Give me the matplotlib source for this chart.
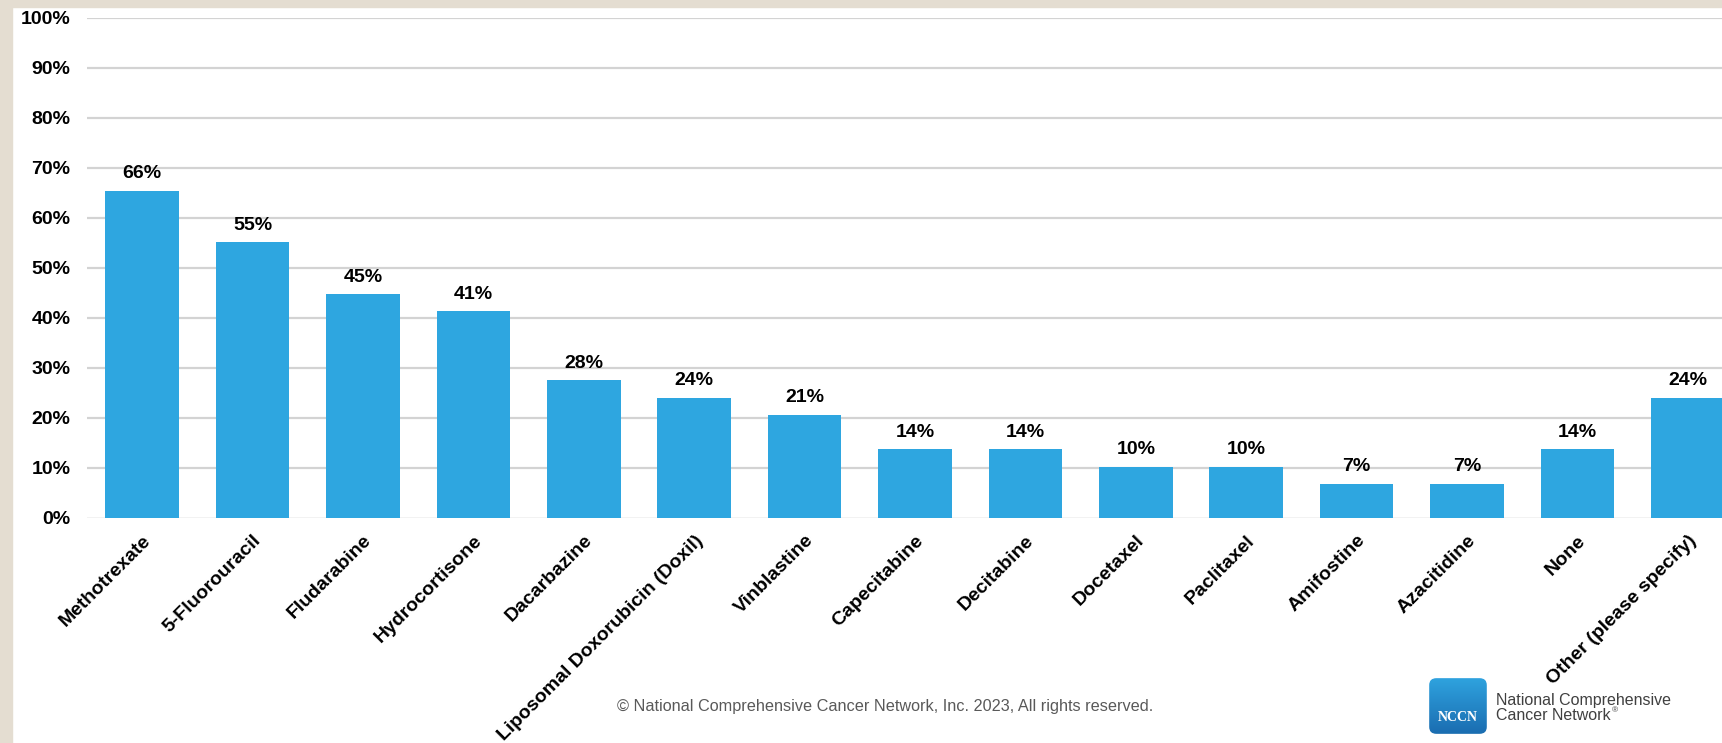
import numpy as np
import matplotlib
matplotlib.use("Agg")
import matplotlib.pyplot as plt
from matplotlib.patches import FancyBboxPatch, Rectangle
from matplotlib.colors import LinearSegmentedColormap

categories = ["Methotrexate", "5-Fluorouracil", "Fludarabine", "Hydrocortisone",
              "Dacarbazine", "Liposomal Doxorubicin (Doxil)", "Vinblastine",
              "Capecitabine", "Decitabine", "Docetaxel", "Paclitaxel",
              "Amifostine", "Azacitidine", "None", "Other (please specify)"]
values = [65.5, 55.2, 44.8, 41.4, 27.6, 24.1, 20.7, 13.8, 13.8, 10.3, 10.3, 6.9, 6.9, 13.8, 24.1]
value_labels = ["66%", "55%", "45%", "41%", "28%", "24%", "21%", "14%", "14%",
                "10%", "10%", "7%", "7%", "14%", "24%"]
yticks = [0, 10, 20, 30, 40, 50, 60, 70, 80, 90, 100]
ytick_labels = [f"{t}%" for t in yticks]

W, H = 1722, 743
fig = plt.figure(figsize=(W / 100, H / 100), dpi=100)
fig.patch.set_facecolor("white")
plt.rcParams['font.family'] = ['Liberation Sans', 'DejaVu Sans']

# beige frame strips
fig.add_artist(Rectangle((0, 0), 12 / W, 1, transform=fig.transFigure, color="#e4ddd1", zorder=0))
fig.add_artist(Rectangle((0, 1 - 7 / H), 1, 7 / H, transform=fig.transFigure, color="#e4ddd1", zorder=0))

left, right, bottom, top = 87, 1722, 743 - 518, 743 - 18
ax = fig.add_axes([left / W, bottom / H, (right - left) / W, (top - bottom) / H])
ax.set_facecolor("none")
slot = 110.4
ax.set_xlim(-0.5, -0.5 + (right - left) / slot)
ax.set_ylim(0, 100)

x = np.arange(len(categories))
ax.bar(x, values, width=0.667, color="#2ea6e0", zorder=2)
for xi, v, lab in zip(x, values, value_labels):
    ax.annotate(lab, (xi, v), xytext=(0, 6), textcoords="offset points",
                ha="center", va="bottom", fontsize=14, fontweight="bold", color="black",
                annotation_clip=False)

for t in yticks[1:]:
    ax.axhline(t, color="#d3d3d3", lw=1.6, zorder=1)
ax.axhline(0, color="#f0f0f0", lw=1.2, zorder=1)

ax.set_yticks(yticks)
ax.set_yticklabels(ytick_labels, fontsize=14, fontweight="bold")
ax.tick_params(axis="y", length=0, pad=12)
ax.set_xticks(x)
ax.set_xticklabels(categories, rotation=45, ha="right", rotation_mode="anchor",
                   fontsize=14, fontweight="bold")
ax.tick_params(axis="x", length=0, pad=10)
for s in ax.spines.values():
    s.set_visible(False)

fig.text(885 / W, 1 - 706 / H,
         "© National Comprehensive Cancer Network, Inc. 2023, All rights reserved.",
         ha="center", va="center", fontsize=11.7, color="#595959")

# NCCN logo
lx0, ly0, lw, lh = 1428, 677, 60, 58
lax = fig.add_axes([lx0 / W, 1 - (ly0 + lh) / H, lw / W, lh / H])
lax.set_axis_off()
grad = np.linspace(0, 1, 100).reshape(-1, 1)
cmap = LinearSegmentedColormap.from_list("nccn", ["#2fa3df", "#1a6cb0"])
im = lax.imshow(grad, aspect="auto", cmap=cmap, extent=[0, 1, 0, 1], origin="upper")
patch = FancyBboxPatch((0.02, 0.02), 0.96, 0.96, boxstyle="round,pad=0,rounding_size=0.12",
                       transform=lax.transAxes, facecolor="none", edgecolor="none")
lax.add_patch(patch)
im.set_clip_path(patch)
lax.set_xlim(0, 1); lax.set_ylim(0, 1)
lax.text(0.5, 0.3, "NCCN", ha="center", va="center", color="white", fontsize=10,
         fontweight="bold", family=["Liberation Serif", "DejaVu Serif"])

fig.text(1496 / W, 1 - 701 / H, "National Comprehensive", ha="left", va="center",
         fontsize=11.5, color="#404040")
t2 = fig.text(1496 / W, 1 - 716 / H, "Cancer Network", ha="left", va="center",
              fontsize=11.5, color="#404040")
fig.canvas.draw()
bb = t2.get_window_extent()
fig.text(bb.x1 / W + 1 / W, 1 - 711 / H, "®", ha="left", va="center",
         fontsize=6, color="#404040")

fig.savefig("out.png", dpi=100)
